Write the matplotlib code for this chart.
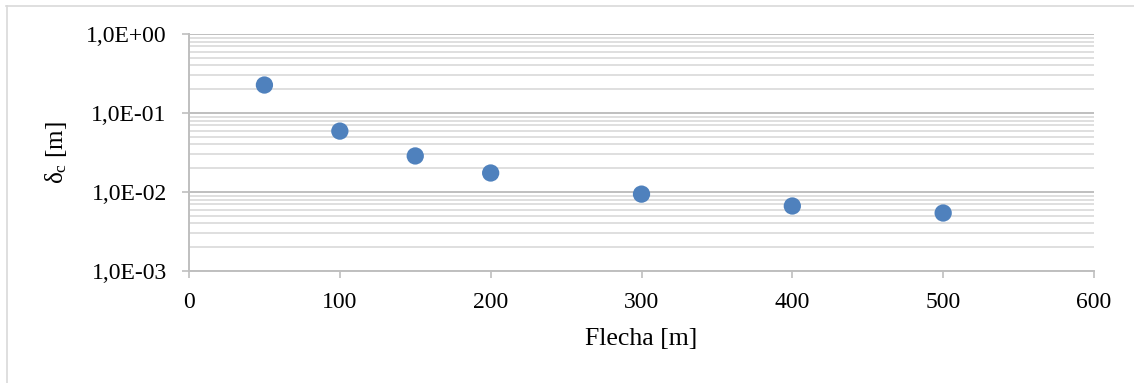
import matplotlib
matplotlib.use("Agg")
import matplotlib.pyplot as plt
from matplotlib.ticker import LogLocator, FixedLocator, FuncFormatter, NullFormatter
from matplotlib.lines import Line2D

# Sag (m) vs. deflection delta_c (m)
flecha = [50, 100, 150, 200, 300, 400, 500]
delta_c = [0.226, 0.059, 0.0286, 0.0174, 0.0094, 0.00665, 0.00542]
x_ticks = [0, 100, 200, 300, 400, 500, 600]
y_ticks = [1e-3, 1e-2, 1e-1, 1e0]
y_tick_labels = ["1,0E-03", "1,0E-02", "1,0E-01", "1,0E+00"]

plt.rcParams["font.family"] = ["Liberation Serif", "DejaVu Serif"]
plt.rcParams["mathtext.fontset"] = "custom"
plt.rcParams["mathtext.rm"] = "Liberation Serif"
plt.rcParams["mathtext.it"] = "Liberation Serif:italic"

W, H = 1134, 383
fig = plt.figure(figsize=(W / 100, H / 100), dpi=100)
ax = fig.add_axes([189 / W, 1 - 271 / H, (1094 - 189) / W, (271 - 34) / H])

major_col = "#BFBFBF"
minor_col = "#D9D9D9"
axis_col = "#BFBFBF"

ax.set_yscale("log")
ax.set_xlim(0, 600)
ax.set_ylim(1e-3, 1e0)

ax.yaxis.set_major_locator(FixedLocator(y_ticks))
ax.yaxis.set_major_formatter(FuncFormatter(
    lambda v, p: y_tick_labels[y_ticks.index(min(y_ticks, key=lambda t: abs(t - v)))]))
ax.yaxis.set_minor_locator(LogLocator(base=10, subs=range(2, 10)))
ax.yaxis.set_minor_formatter(NullFormatter())
ax.xaxis.set_major_locator(FixedLocator(x_ticks))

ax.grid(True, which="major", axis="y", color=major_col, linewidth=1.4, zorder=0)
ax.grid(True, which="minor", axis="y", color=minor_col, linewidth=1.2, zorder=0)
ax.set_axisbelow(True)

for s in ["top", "right"]:
    ax.spines[s].set_visible(False)
for s in ["left", "bottom"]:
    ax.spines[s].set_color(axis_col)
    ax.spines[s].set_linewidth(1.4)

ax.tick_params(axis="both", which="major", direction="out", length=5, width=1.2,
               color=axis_col, labelsize=17, labelcolor="black")
ax.tick_params(axis="y", which="minor", length=0)
ax.tick_params(axis="y", pad=11)
ax.tick_params(axis="x", pad=10)

ax.scatter(flecha, delta_c, s=155, color="#4F81BD", edgecolors="none", zorder=3, clip_on=False)

ax.set_xlabel("Flecha [m]", fontsize=18.5, labelpad=11)
ax.set_ylabel(r"δ$_\mathrm{c}$ [m]", fontsize=18, labelpad=12)

# Outer chart frame
fig.add_artist(Line2D([6 / W, 1.0], [1 - 6 / H, 1 - 6 / H], transform=fig.transFigure,
                      color="#D9D9D9", linewidth=1.2))
fig.add_artist(Line2D([6.5 / W, 6.5 / W], [0, 1 - 6 / H], transform=fig.transFigure,
                      color="#D9D9D9", linewidth=1.2))

fig.savefig("out.png", dpi=100)
